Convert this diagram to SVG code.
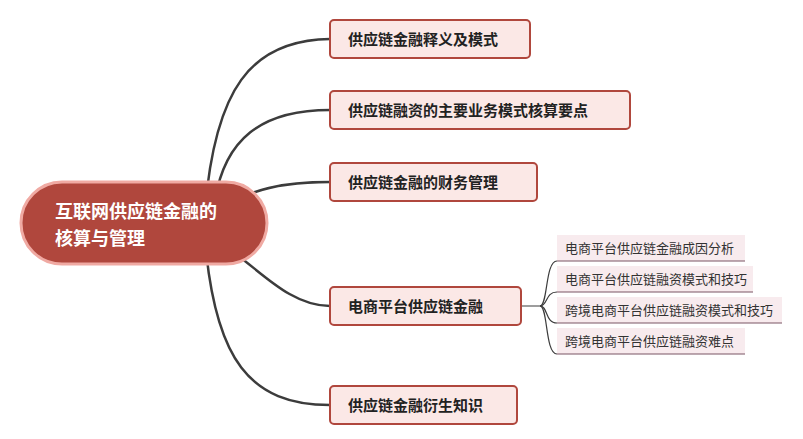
<svg xmlns="http://www.w3.org/2000/svg" width="803" height="439" viewBox="0 0 803 439">
<style>
text{font-family:"Noto Sans CJK SC","Noto Sans",sans-serif}
.b rect{fill:#fbe8e6;stroke:#b0473d;stroke-width:2}
.b text{font-size:15px;font-weight:bold;fill:#222}
.s rect{fill:#f8ebee}
.s line{stroke:#7a5565;stroke-width:1}
.s text{font-size:13px;fill:#333}
.c path{fill:none;stroke:#3c3c3c;stroke-width:2.5}
.c .t{stroke-width:1.2}
</style>
<g class="c">
<path d="M205 210 C215 90,250 40,330 39"/>
<path d="M215 200 C225 140,260 110,330 110"/>
<path d="M230 205 C250 190,280 182,330 182"/>
<path d="M230 250 C260 270,290 306,330 306"/>
<path d="M205 240 C215 360,250 405,330 405"/>
<path class="t" d="M521 306 H540 C548 306,545 261,557 261"/>
<path class="t" d="M540 306 C548 306,545 292,557 292"/>
<path class="t" d="M540 306 C548 306,545 323,557 323"/>
<path class="t" d="M540 306 C548 306,545 354,557 354"/>
</g>
<g id="root">
<rect x="21" y="182" width="246" height="82" rx="41" fill="#b0473d" stroke="#f0aaa3" stroke-width="3"/>
<text x="55" y="218" font-size="18" font-weight="bold" fill="#fff">互联网供应链金融的</text>
<text x="55" y="245" font-size="18" font-weight="bold" fill="#fff">核算与管理</text>
</g>
<g id="n1" class="b"><rect x="330" y="20" width="200" height="38" rx="4"/><text x="348" y="45">供应链金融释义及模式</text></g>
<g id="n2" class="b"><rect x="330" y="91" width="300" height="38" rx="4"/><text x="348" y="116">供应链融资的主要业务模式核算要点</text></g>
<g id="n3" class="b"><rect x="330" y="163" width="207" height="38" rx="4"/><text x="348" y="188">供应链金融的财务管理</text></g>
<g id="n4" class="b"><rect x="330" y="287" width="191" height="38" rx="4"/><text x="348" y="312">电商平台供应链金融</text></g>
<g id="n5" class="b"><rect x="330" y="386" width="187" height="38" rx="4"/><text x="348" y="411">供应链金融衍生知识</text></g>
<g id="s1" class="s"><rect x="557" y="235" width="188" height="26"/><line x1="557" y1="261" x2="745" y2="261"/><text x="565" y="253">电商平台供应链金融成因分析</text></g>
<g id="s2" class="s"><rect x="557" y="266" width="196" height="26"/><line x1="557" y1="292" x2="753" y2="292"/><text x="565" y="284">电商平台供应链融资模式和技巧</text></g>
<g id="s3" class="s"><rect x="557" y="297" width="225" height="26"/><line x1="557" y1="323" x2="782" y2="323"/><text x="565" y="315">跨境电商平台供应链融资模式和技巧</text></g>
<g id="s4" class="s"><rect x="557" y="328" width="188" height="26"/><line x1="557" y1="354" x2="745" y2="354"/><text x="565" y="346">跨境电商平台供应链融资难点</text></g>
</svg>
